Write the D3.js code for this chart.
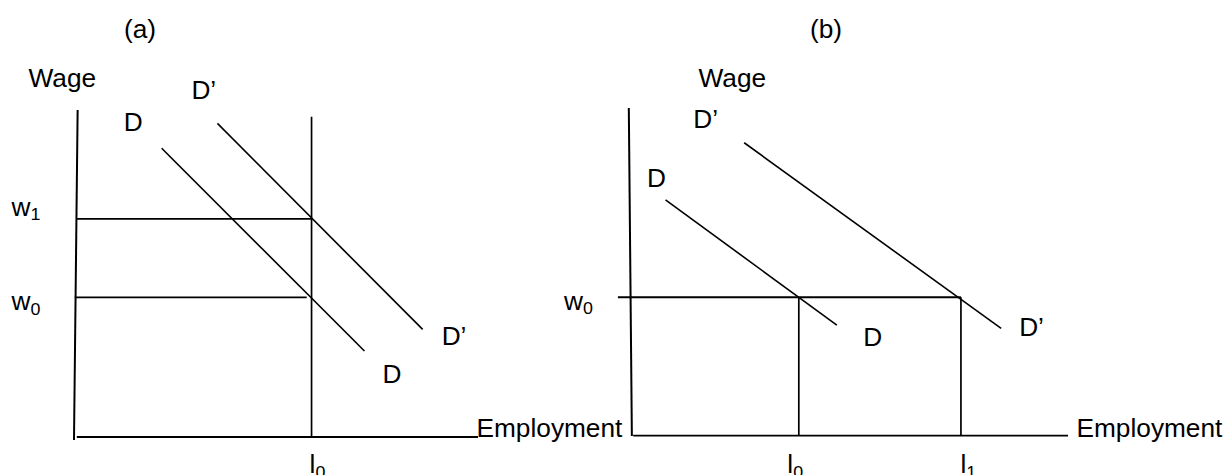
<!DOCTYPE html>
<html>
<head>
<meta charset="utf-8">
<script src="https://cdn.jsdelivr.net/npm/d3@7"></script>
<style>
  html, body { margin: 0; padding: 0; background: #fff; }
  svg { display: block; }
  text { font-family: "Liberation Sans", Arial, sans-serif; fill: #000; }
</style>
</head>
<body>
<svg id="chart" width="1227" height="475"></svg>
<script>
// ---------- data ----------
const panelTitles = ["(a)", "(b)"];
const axisLabels = ["Wage", "Employment"];

// Panel (a): employment fixed at l0, demand shifts D -> D'
const demandA_D  = [[21.7, 88.3], [71.9, 26.3]];
const demandA_Dp = [[35.5, 95.9], [86.3, 32.9]];
const wageLevelsA = [42.7, 66.7];
const wageSubsA   = ["0", "1"];
const employA     = [58.8];
const employSubsA = ["0"];

// Panel (b): wage fixed at w0, employment moves l0 -> l1
const demandB_D  = [[7.9, 72.0], [47.1, 33.8]];
const demandB_Dp = [[25.9, 89.4], [84.7, 32.8]];
const wageLevelsB = [42.3];
const wageSubsB   = ["0"];
const employB     = [38.4, 75.5];
const employSubsB = ["0", "1"];

// ---------- drawing ----------
const svg = d3.select("#chart");
const FS = 25, SX = 1.05;

function label(g, x, y, main, sub) {
  const t = g.append("text")
    .attr("transform", `translate(${x},${y}) scale(${SX},1)`)
    .attr("font-size", FS);
  t.append("tspan").text(main);
  if (sub !== undefined) {
    t.append("tspan").attr("font-size", 17).attr("dy", 4.5).text(sub);
  }
  return t;
}

function seg(g, x, y, p, q, w) {
  g.append("line")
    .attr("x1", x(p[0])).attr("y1", y(p[1]))
    .attr("x2", x(q[0])).attr("y2", y(q[1]))
    .attr("stroke", "#000").attr("stroke-width", w || 1.7);
}

// Panel (a)
const xA = d3.scaleLinear([0, 100], [74, 478]);
const yA = d3.scaleLinear([0, 100], [437, 110]);
const gA = svg.append("g");
seg(gA, xA, yA, [0.9, 100], [0, -0.9], 2);          // y axis
seg(gA, xA, yA, [0.7, 0], [100, 0], 1.9);            // x axis
seg(gA, xA, yA, [employA[0], 97.9], [employA[0], 0], 1.7); // l0 vertical
seg(gA, xA, yA, [0.2, wageLevelsA[0]], [employA[0] - 1.2, wageLevelsA[0]], 1.8);
seg(gA, xA, yA, [0.75, wageLevelsA[1]], [employA[0], wageLevelsA[1]], 1.6);
seg(gA, xA, yA, demandA_D[0], demandA_D[1], 1.6);
seg(gA, xA, yA, demandA_Dp[0], demandA_Dp[1], 1.6);

label(gA, 124, 38, panelTitles[0]);
label(gA, 28.5, 87, axisLabels[0]);
label(gA, xA(demandA_Dp[0][0]) - 26, yA(demandA_Dp[0][1]) - 24, "D’");
label(gA, xA(demandA_D[0][0]) - 38, yA(demandA_D[0][1]) - 17, "D");
label(gA, xA(demandA_Dp[1][0]) + 19, yA(demandA_Dp[1][1]) + 16, "D’");
label(gA, xA(demandA_D[1][0]) + 18, yA(demandA_D[1][1]) + 32, "D");
wageLevelsA.forEach((v, i) => label(gA, 11.5, yA(v) + (i === 0 ? 12.7 : -3), "w", wageSubsA[i]));
employA.forEach((v, i) => label(gA, xA(v) - 2, 473, "l", employSubsA[i]));
label(gA, 476.5, 436.7, axisLabels[1]);

// Panel (b)
const xB = d3.scaleLinear([0, 100], [631, 1068]);
const yB = d3.scaleLinear([0, 100], [436, 108]);
const gB = svg.append("g");
seg(gB, xB, yB, [-0.5, 100], [0.2, 0], 2);           // y axis
seg(gB, xB, yB, [0.5, 0.1], [100, 0.1], 1.9);          // x axis
seg(gB, xB, yB, [-3.0, wageLevelsB[0]], [employB[1], wageLevelsB[0]], 1.8);
employB.forEach(v => seg(gB, xB, yB, [v, wageLevelsB[0]], [v, 0], 1.7));
seg(gB, xB, yB, demandB_D[0], demandB_D[1], 1.6);
seg(gB, xB, yB, demandB_Dp[0], demandB_Dp[1], 1.6);

label(gB, 810, 38, panelTitles[1]);
label(gB, 698.5, 87.3, axisLabels[0]);
label(gB, xB(demandB_Dp[0][0]) - 51, yB(demandB_Dp[0][1]) - 14.5, "D’");
label(gB, xB(demandB_D[0][0]) - 18.5, yB(demandB_D[0][1]) - 12.7, "D");
label(gB, xB(demandB_D[1][0]) + 26.5, yB(demandB_D[1][1]) + 20.7, "D");
label(gB, xB(demandB_Dp[1][0]) + 18, yB(demandB_Dp[1][1]) + 8, "D’");
wageLevelsB.forEach((v, i) => label(gB, 564, yB(v) + 12.7, "w", wageSubsB[i]));
employB.forEach((v, i) => label(gB, xB(v) - 11.5 + (i === 1 ? 11 : 0), 473, "l", employSubsB[i]));
label(gB, 1076.5, 436.7, axisLabels[1]);
</script>
</body>
</html>
